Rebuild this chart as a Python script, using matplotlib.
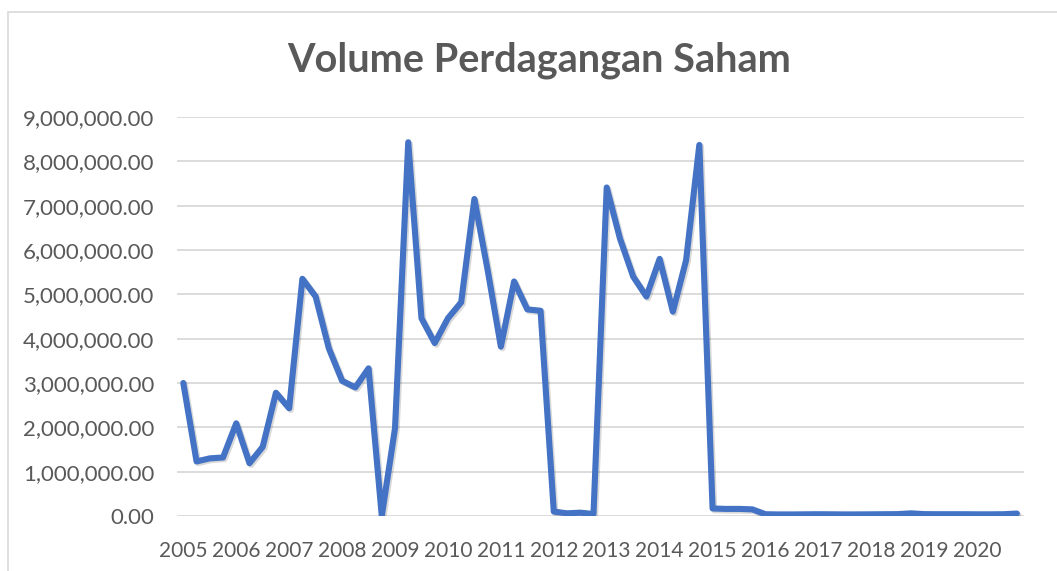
import numpy as np
import matplotlib
matplotlib.use("Agg")
from matplotlib import pyplot as plt
from matplotlib import patheffects as pe
from matplotlib.ticker import FuncFormatter, FixedLocator
from matplotlib.patches import Rectangle

# quarterly trading volume, 2005 Q1 .. 2020 Q4
years = list(range(2005, 2021))
volume = [
    3000000, 1230000, 1300000, 1320000,   # 2005
    2090000, 1190000, 1560000, 2780000,   # 2006
    2430000, 5350000, 4950000, 3780000,   # 2007
    3050000, 2900000, 3330000, 0,         # 2008
    1980000, 8430000, 4460000, 3900000,   # 2009
    4460000, 4820000, 7150000, 5550000,   # 2010
    3820000, 5290000, 4660000, 4630000,   # 2011
    100000, 60000, 75000, 45000,          # 2012
    7410000, 6260000, 5400000, 4950000,   # 2013
    5800000, 4610000, 5770000, 8370000,   # 2014
    170000, 160000, 160000, 150000,       # 2015
    40000, 35000, 35000, 38000,           # 2016
    40000, 38000, 35000, 36000,           # 2017
    38000, 40000, 42000, 60000,           # 2018
    42000, 40000, 40000, 40000,           # 2019
    38000, 38000, 40000, 55000,           # 2020
]

font = "Lato"
grey = "#595959"

fig = plt.figure(figsize=(10.57, 5.71), dpi=100)
fig.patches.append(Rectangle((8/1057, -0.1), 1.2, (571-12)/571 + 0.1,
                             transform=fig.transFigure, fill=False,
                             edgecolor="#d9d9d9", linewidth=1.2))

ax = fig.add_axes([176.7/1057, 55/571, (1023.5-176.7)/1057, (516-117)/571])

x = np.arange(len(volume))
ax.plot(x, volume, color="#4472C4", linewidth=4.4, solid_joinstyle="round",
        solid_capstyle="round",
        path_effects=[pe.SimpleLineShadow(offset=(1.2, -1.2), shadow_color="black", alpha=0.15),
                      pe.Normal()])

ax.set_xlim(-0.5, len(volume) - 0.5)
ax.set_ylim(0, 9000000)
ax.yaxis.set_major_locator(FixedLocator(np.arange(0, 9000001, 1000000)))
ax.yaxis.set_major_formatter(FuncFormatter(lambda v, p: f"{v:,.2f}"))
ax.set_xticks(np.arange(0, len(volume), 4))
ax.set_xticklabels([str(y) for y in years])

ax.grid(axis="y", color="#d9d9d9", linewidth=1.3)
ax.set_axisbelow(True)
for s in ax.spines.values():
    s.set_visible(False)
ax.tick_params(length=0, colors=grey)
ax.tick_params(axis="y", pad=16, labelsize=16)
ax.tick_params(axis="x", pad=18, labelsize=15)
for lab in ax.get_xticklabels() + ax.get_yticklabels():
    lab.set_fontfamily(font)

fig.text(539/1057, 1 - 60/571, "Volume Perdagangan Saham", ha="center", va="center",
         fontsize=28.5, fontweight="bold", color=grey, family=font)

fig.savefig("out.png", dpi=100)
